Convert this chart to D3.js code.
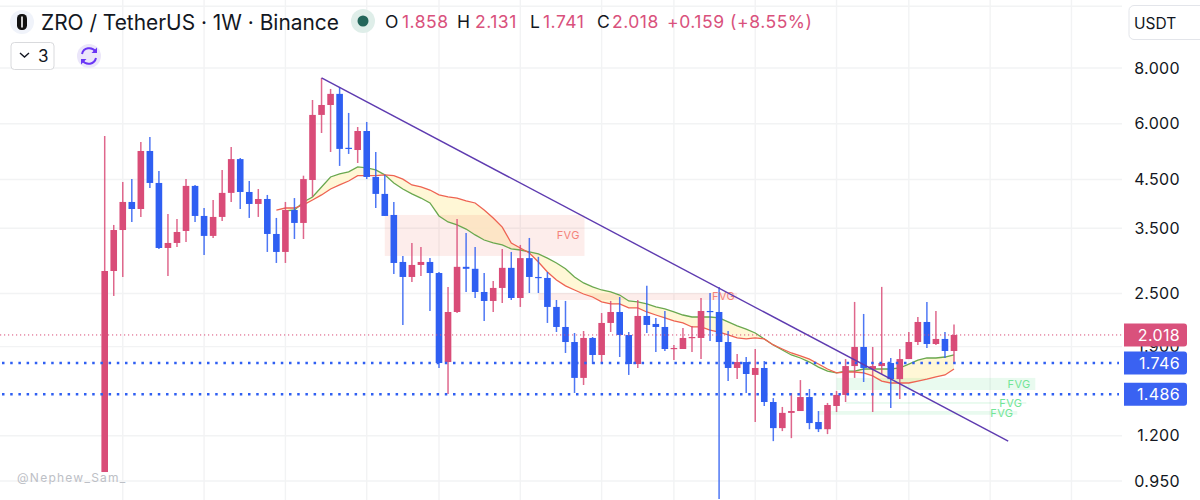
<!DOCTYPE html>
<html><head><meta charset="utf-8">
<script src="https://cdn.jsdelivr.net/npm/d3@7/dist/d3.min.js"></script>
<style>html,body{margin:0;padding:0;background:#fff;overflow:hidden}svg{display:block;font-family:Inter,"Noto Sans",sans-serif}</style>
</head><body><svg id="c" width="1200" height="500"></svg>
<script>
const opens=[0.995,2.807,3.468,4.008,3.865,5.214,4.421,3.161,3.244,3.451,4.354,3.729,3.364,3.71,4.20,5.00,4.22,3.967,4.07,3.398,3.097,3.845,3.597,4.489,6.28,6.61,7.00,5.30,5.24,5.78,4.56,4.178,3.748,2.941,2.722,2.896,2.941,2.778,1.755,2.272,2.868,2.839,2.519,2.405,2.572,2.853,2.442,3.00,2.722,2.708,2.332,2.103,1.946,1.617,1.987,1.82,2.147,2.272,2.018,1.737,2.226,2.136,2.103,1.877,1.877,1.987,1.987,2.284,2.272,1.946,1.702,1.755,1.642,1.702,1.428,1.248,1.35,1.363,1.465,1.288,1.241,1.399,1.481,1.719,1.897,1.693,1.719,1.746,1.607,1.782,1.946,2.158,1.926,1.977,1.858];
const closes=[2.807,3.468,4.008,3.865,5.214,4.421,3.161,3.244,3.433,4.354,3.729,3.364,3.71,4.20,5.00,4.22,3.967,4.07,3.398,3.097,3.845,3.597,4.51,6.28,6.61,7.00,5.27,5.27,5.78,4.56,4.178,3.729,2.926,2.722,2.896,2.941,2.778,1.746,2.272,2.868,2.839,2.519,2.405,2.572,2.853,2.442,3.00,2.722,2.708,2.332,2.103,1.946,1.617,1.987,1.82,2.147,2.272,2.018,1.737,2.226,2.125,2.103,1.877,1.887,1.987,1.997,2.284,2.272,1.946,1.702,1.755,1.65,1.702,1.428,1.248,1.35,1.363,1.465,1.281,1.241,1.406,1.481,1.719,1.897,1.702,1.719,1.746,1.607,1.782,1.946,2.158,1.926,1.977,1.858,2.018];
const highs=[5.635,3.56,4.444,4.51,5.462,5.606,4.70,3.768,3.671,4.51,4.376,3.885,4.049,4.727,5.323,5.03,4.466,4.285,4.156,3.691,4.008,4.09,4.59,6.783,7.60,7.18,7.255,6.345,5.90,6.056,5.187,4.61,4.008,3.034,3.244,3.178,3.00,2.793,2.586,3.671,3.416,3.178,2.778,2.666,3.145,3.097,3.211,3.329,3.02,2.793,2.417,2.405,2.039,2.06,1.997,2.26,2.405,2.455,2.049,2.417,2.60,2.203,2.284,1.917,2.092,2.114,2.442,2.506,2.586,2.06,1.83,1.801,1.877,1.764,1.457,1.392,1.496,1.599,1.527,1.363,1.421,1.512,1.782,2.393,2.249,1.897,2.586,1.792,1.877,2.049,2.214,2.393,2.284,2.049,2.131];
const lows=[0.995,2.468,2.722,3.615,3.71,4.31,3.145,2.736,3.178,3.261,3.615,3.05,3.329,3.634,4.008,3.865,3.691,3.71,3.097,2.926,2.926,3.311,3.311,4.113,5.72,5.187,4.827,5.135,4.90,4.51,3.885,3.729,2.764,2.125,2.652,2.736,2.284,1.702,1.488,2.26,2.519,2.442,2.169,2.272,2.381,2.417,2.332,2.506,2.506,2.147,2.049,1.839,1.496,1.559,1.737,1.746,2.049,1.801,1.642,1.702,2.039,1.848,1.858,1.773,1.877,1.848,1.782,1.956,0.866,1.591,1.607,1.496,1.288,1.399,1.167,1.229,1.185,1.363,1.241,1.223,1.21,1.356,1.428,1.617,1.583,1.356,1.65,1.384,1.45,1.782,1.917,1.887,1.917,1.792,1.741];
// moving averages start at the candle index given
const slowStart=19;
const slowMA=[3.845,3.885,3.885,3.947,4.049,4.156,4.285,4.376,4.466,4.59,4.59,4.59,4.61,4.59,4.51,4.376,4.33,4.263,4.156,4.113,4.09,4.029,3.987,3.845,3.691,3.52,3.244,3.161,3.081,2.941,2.793,2.679,2.60,2.545,2.493,2.455,2.393,2.369,2.369,2.32,2.32,2.272,2.237,2.203,2.169,2.147,2.103,2.103,2.07,2.049,2.018,1.987,1.977,1.987,1.977,1.917,1.877,1.839,1.811,1.782,1.737,1.693,1.659,1.667,1.667,1.659,1.634,1.591,1.575,1.575,1.575,1.591,1.607,1.625,1.642,1.693];
const fastStart=20;
const fastMA=[3.826,3.845,4.008,4.113,4.33,4.56,4.632,4.68,4.802,4.778,4.727,4.61,4.421,4.285,4.178,4.09,3.987,3.729,3.615,3.56,3.485,3.381,3.294,3.244,3.211,3.145,3.128,3.097,3.065,3.00,2.926,2.839,2.722,2.639,2.586,2.545,2.519,2.48,2.405,2.393,2.369,2.332,2.308,2.272,2.237,2.214,2.214,2.214,2.203,2.158,2.114,2.08,2.039,1.977,1.917,1.867,1.82,1.792,1.755,1.71,1.675,1.659,1.675,1.675,1.693,1.693,1.693,1.693,1.702,1.737,1.773,1.792,1.792,1.801,1.82];
const trendIdx=[24,100];
const trendPrice=[7.60,1.167];
const fvgLabels=["FVG","FVG","FVG","FVG","FVG"];
const fvgStart=[31,48,81,82,79];
const fvgEnd=[53.1,70,103,102,101];
const fvgTop=[3.748,2.506,1.617,1.428,1.363];
const fvgBottom=[3.034,2.417,1.519,1.414,1.337];
const fvgTone=["red","red","green","green","green"];
const fvgLabelIdx=[51.3,68.5,101.2,100.3,99.3];
const yTicks=[11,8,6,4.5,3.5,2.5,1.9,1.2,0.95];
const timeGridIdx=[2,11,20,29,37,46,55,63,72,81,89,98,107];
const levels=[1.746,1.486];
const last=2.018;
const title="ZRO / TetherUS · 1W · Binance";
const ohlcLetters=["O","H","L","C"];
const ohlcValues=["1.858","2.131","1.741","2.018"];
const change="+0.159 (+8.55%)";

const PINK="#d94c78",BLUE="#2f5ff2",RIGHT=1122;
const x=d3.scaleLinear().domain([0,94]).range([104.7,954]);
const y=d3.scaleLog().domain([8,0.95]).range([68,481]);
const svg=d3.select("#c");
svg.append("defs").append("clipPath").attr("id","plot").append("rect").attr("x",0).attr("y",0).attr("width",RIGHT).attr("height",500);
const g=svg.append("g").attr("clip-path","url(#plot)");
// grid
g.selectAll(".h").data(yTicks).join("line").attr("x1",0).attr("x2",RIGHT).attr("y1",d=>y(d)).attr("y2",d=>y(d)).attr("stroke","#f2f3f4").attr("stroke-width",1.4);
g.selectAll(".v").data(timeGridIdx).join("line").attr("x1",d=>x(d)).attr("x2",d=>x(d)).attr("y1",0).attr("y2",500).attr("stroke","#f2f3f4").attr("stroke-width",1.4);
// MA band
const slow=slowMA.map((v,i)=>({i:i+slowStart,v}));
const fast=fastMA.map((v,i)=>({i:i+fastStart,v}));
const band=d3.area().x(d=>x(d.i)).y0(d=>y(d.a)).y1(d=>y(d.b));
const bandData=fast.map(d=>({i:d.i,a:d.v,b:slowMA[d.i-slowStart]}));
g.append("path").attr("d",band(bandData)).attr("fill","#fff6cf").attr("fill-opacity",.85);
// FVG
const fv=d3.range(fvgStart.length);
g.selectAll(".fvg").data(fv).join("rect").attr("x",i=>x(fvgStart[i])).attr("width",i=>x(fvgEnd[i])-x(fvgStart[i])).attr("y",i=>y(fvgTop[i])).attr("height",i=>y(fvgBottom[i])-y(fvgTop[i])).attr("fill",i=>fvgTone[i]=="red"?"#f0584a":"#36cf6e").attr("fill-opacity",i=>fvgTone[i]=="red"?.11:.11);
const ln=d3.line().x(d=>x(d.i)).y(d=>y(d.v));
g.append("path").attr("d",ln(fast)).attr("fill","none").attr("stroke","#6aa84f").attr("stroke-width",1.3);
g.append("path").attr("d",ln(slow)).attr("fill","none").attr("stroke","#ee6352").attr("stroke-width",1.3);
// candles
const idx=d3.range(opens.length);
const col=i=>closes[i]>=opens[i]?PINK:BLUE;
g.selectAll(".w").data(idx).join("line").attr("x1",i=>x(i)).attr("x2",i=>x(i)).attr("y1",i=>y(highs[i])).attr("y2",i=>y(lows[i])).attr("stroke",col).attr("stroke-width",1.5).attr("stroke-opacity",.85);
g.selectAll(".b").data(idx).join("rect").attr("x",i=>x(i)-3.3).attr("width",6.6).attr("y",i=>Math.min(y(opens[i]),y(closes[i]))).attr("height",i=>Math.max(1.2,Math.abs(y(opens[i])-y(closes[i])))).attr("fill",col);
// FVG labels
g.selectAll(".fl").data(fv).join("text").attr("x",i=>x(fvgLabelIdx[i])).attr("y",i=>(y(fvgTop[i])+y(fvgBottom[i]))/2+4).attr("text-anchor","middle").attr("font-size",11).attr("letter-spacing",.4).attr("fill",i=>fvgTone[i]=="red"?"#f4837a":"#72e597").text(i=>fvgLabels[i]);
// levels
g.append("line").attr("x1",0).attr("x2",RIGHT).attr("y1",y(last)).attr("y2",y(last)).attr("stroke",PINK).attr("stroke-width",1).attr("stroke-dasharray","1.2 2.8");
g.selectAll(".lv").data(levels).join("line").attr("x1",2).attr("x2",RIGHT-3).attr("y1",d=>y(d)).attr("y2",d=>y(d)).attr("stroke",BLUE).attr("stroke-width",2.5).attr("stroke-dasharray","2.5 5.7");
// trend
g.append("line").attr("x1",x(trendIdx[0])).attr("y1",y(trendPrice[0])).attr("x2",x(trendIdx[1])).attr("y2",y(trendPrice[1])).attr("stroke","#5e3bb0").attr("stroke-width",1.4);
// watermark
g.append("text").attr("x",17).attr("y",482).attr("font-size",12).attr("letter-spacing",1.25).attr("fill","#bdc0c6").text("@Nephew_Sam_");
// axis
svg.selectAll(".t").data(yTicks.filter(d=>d<11)).join("text").attr("x",1180).attr("y",d=>y(d)+5.7).attr("text-anchor","end").attr("font-size",16).attr("letter-spacing",.35).attr("fill","#131722").text(d=>d3.format(".3f")(d));
// badges
const badge=(v,c)=>{const cy=y(v);
 svg.append("path").attr("d",`M1124 ${cy-11.5}H1184a3 3 0 0 1 3 3V${cy+8.5}a3 3 0 0 1 -3 3H1124Z`).attr("fill",c);
 svg.append("text").attr("x",1180).attr("y",cy+5.7).attr("text-anchor","end").attr("font-size",16).attr("letter-spacing",.35).attr("fill","#fff").text(d3.format(".3f")(v));};
badge(last,"#d9517c");levels.forEach(v=>badge(v,"#3a62f2"));
// USDT
svg.append("rect").attr("x",1129).attr("y",5.5).attr("width",90).attr("height",34).attr("rx",5).attr("fill","#fff").attr("stroke","#e3e5ea");
svg.append("text").attr("x",1134).attr("y",29).attr("font-size",15.5).attr("fill","#131722").text("USDT");
// header
svg.append("circle").attr("cx",22).attr("cy",22).attr("r",12).attr("fill","#f0f3fa");
svg.append("rect").attr("x",17).attr("y",14).attr("width",10).attr("height",16).attr("rx",4.5).attr("fill","#111");
svg.append("rect").attr("x",21.2).attr("y",16.5).attr("width",1.6).attr("height",11).attr("fill","#fff");
svg.append("text").attr("x",41).attr("y",30).attr("font-size",20.9).attr("fill","#131722").text(title);
svg.append("circle").attr("cx",363).attr("cy",21).attr("r",12).attr("fill","#dfeee9");
svg.append("circle").attr("cx",363).attr("cy",21).attr("r",5.5).attr("fill","#23665a");
const lx=[385,457,530,597],vx=[402,475,543,612];
ohlcLetters.forEach((l,i)=>{
 svg.append("text").attr("x",lx[i]).attr("y",28).attr("font-size",17.5).attr("fill","#131722").text(l);
 svg.append("text").attr("x",vx[i]).attr("y",28).attr("font-size",17.5).attr("letter-spacing",.5).attr("fill","#d9517c").text(ohlcValues[i]);});
svg.append("text").attr("x",667).attr("y",28).attr("font-size",17.5).attr("letter-spacing",.55).attr("fill","#d9517c").text(change);
// button row
svg.append("rect").attr("x",11).attr("y",42.5).attr("width",43).attr("height",27).attr("rx",3.5).attr("fill","#fff").attr("stroke","#d9dadd");
svg.append("path").attr("d","M20 53l4.5 4 4.5-4").attr("fill","none").attr("stroke","#131722").attr("stroke-width",1.4);
svg.append("text").attr("x",38).attr("y",62).attr("font-size",17).attr("fill","#131722").text("3");
svg.append("circle").attr("cx",89).attr("cy",56).attr("r",12).attr("fill","#ebe6fa");
svg.append("path").attr("d","M82 54a7.5 7.5 0 0 1 13.5-2.5M96 58a7.5 7.5 0 0 1-13.5 2.5").attr("fill","none").attr("stroke","#6a35f5").attr("stroke-width",2);
svg.append("path").attr("d","M97 47.5v5.5h-5.5ZM81 64.5v-5.5h5.5Z").attr("fill","#6a35f5");
</script></body></html>
